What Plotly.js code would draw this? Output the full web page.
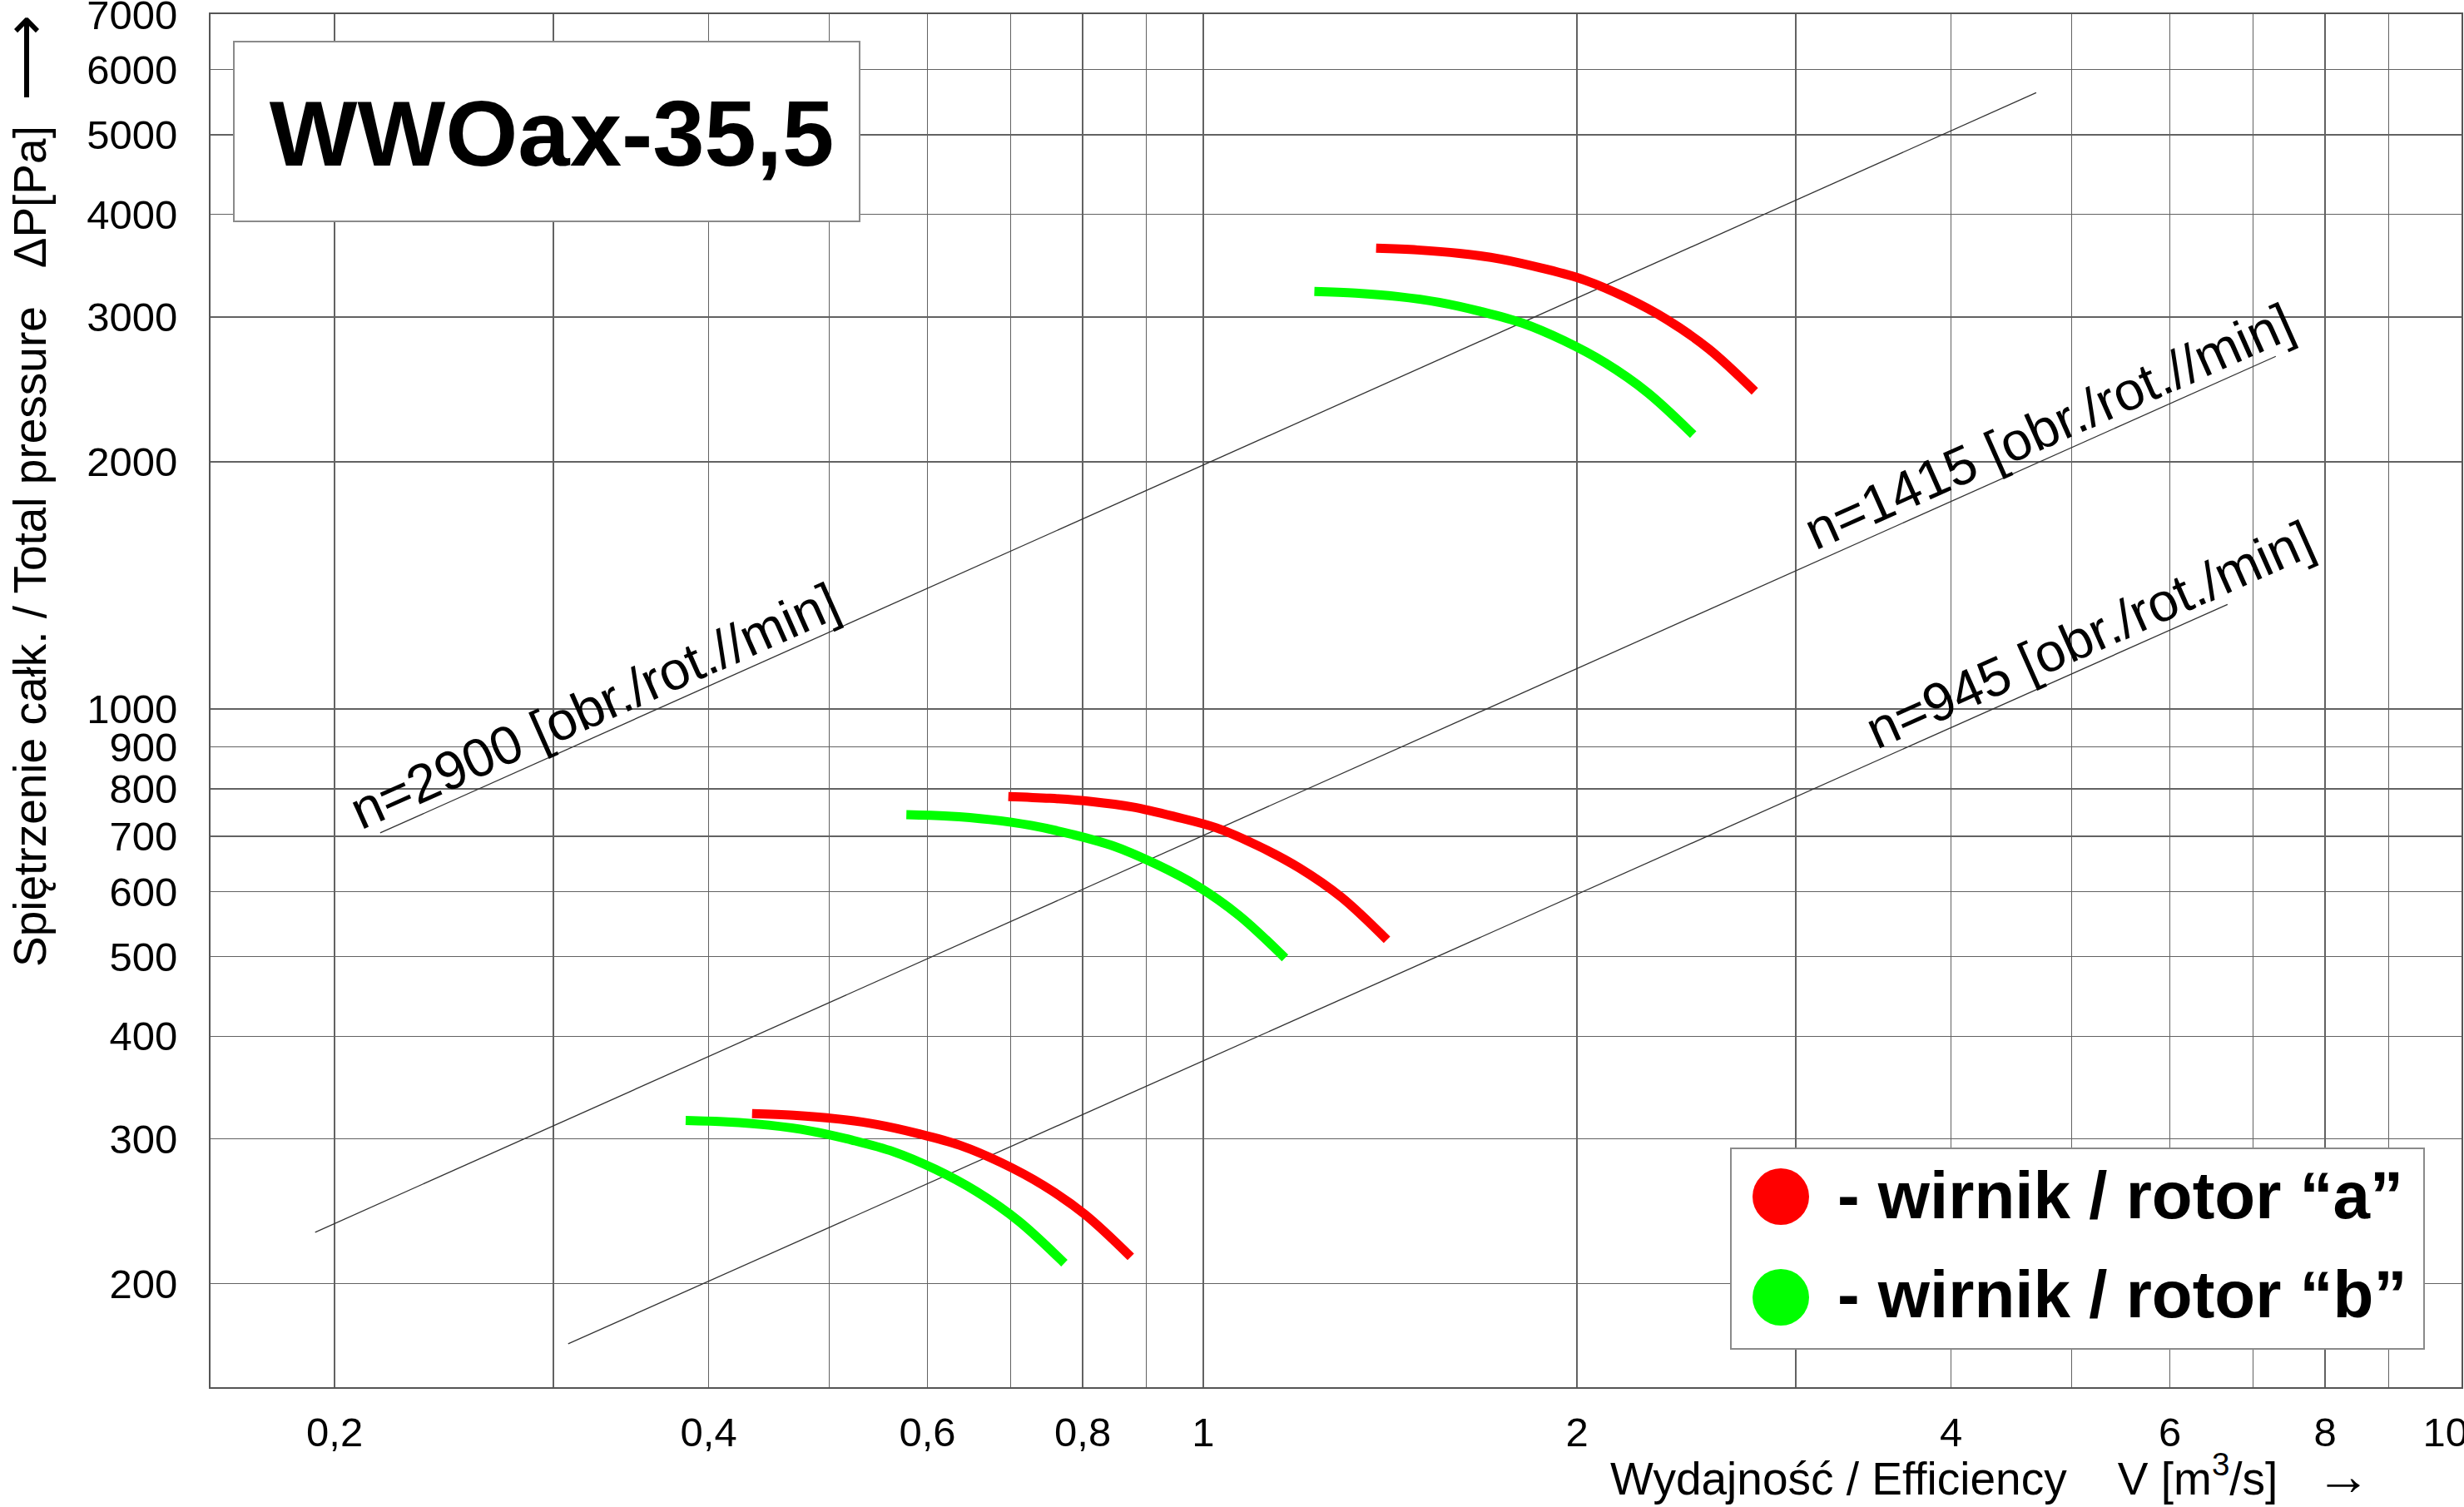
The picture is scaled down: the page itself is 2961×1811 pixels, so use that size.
<!DOCTYPE html>
<html>
<head>
<meta charset="utf-8">
<script src="https://cdn.plot.ly/plotly-3.0.1.min.js"></script>
<style>
html, body { margin: 0; padding: 0; background: #ffffff; }
#chart { width: 2961px; height: 1811px; }
</style>
</head>
<body>
<div id="chart"></div>
<script>
// ---------------- DATA ----------------
// Rotor "a" (red) and rotor "b" (green) characteristic curves, V [m3/s] vs dP [Pa]
const redHighQ   = [1.378, 1.488, 1.608, 1.736, 1.875, 2.026, 2.188, 2.363, 2.553, 2.780];
const redHighP   = [3637, 3620, 3586, 3529, 3439, 3329, 3170, 2977, 2743, 2436];
const greenHighQ = [1.229, 1.327, 1.434, 1.549, 1.673, 1.807, 1.951, 2.108, 2.277, 2.480];
const greenHighP = [3222, 3207, 3177, 3126, 3047, 2949, 2808, 2637, 2430, 2158];

const redMidQ   = [0.697, 0.753, 0.813, 0.878, 0.949, 1.025, 1.107, 1.195, 1.291, 1.406];
const redMidP   = [783, 779, 772, 760, 740, 717, 682, 641, 591, 524];
const greenMidQ = [0.577, 0.623, 0.673, 0.727, 0.785, 0.848, 0.916, 0.990, 1.069, 1.164];
const greenMidP = [744, 741, 734, 722, 704, 681, 648, 609, 561, 498];

const redLowQ   = [0.4335, 0.4682, 0.5057, 0.5463, 0.5900, 0.6373, 0.6883, 0.7435, 0.8031, 0.8746];
const redLowP   = [322, 320.5, 317.5, 312.4, 304.5, 294.7, 280.6, 263.5, 242.9, 215.6];
const greenLowQ = [0.3833, 0.4140, 0.4472, 0.4830, 0.5217, 0.5635, 0.6086, 0.6573, 0.7101, 0.7733];
const greenLowP = [316, 314.7, 311.8, 306.8, 299.0, 289.4, 275.6, 258.8, 238.5, 211.8];

// Speed reference lines (thin) and their labels
const speedLabels = ['n=2900 [obr./rot.//min]', 'n=1415 [obr./rot.//min]', 'n=945 [obr./rot./min]'];
const speedLineQ  = [[0.2176, 4.683], [0.1929, 7.301], [0.3083, 6.676]];
const speedLineP  = [[707, 5623], [231, 2687], [169, 1341]];
const speedLabelQ = [0.3234, 4.79, 5.17];

// Axes
const xTickVals = [0.2, 0.4, 0.6, 0.8, 1, 2, 4, 6, 8, 10];
const xTickText = ['0,2', '0,4', '0,6', '0,8', '1', '2', '4', '6', '8', '10'];
const xGridVals = [0.2, 0.3, 0.4, 0.5, 0.6, 0.7, 0.8, 0.9, 1, 2, 3, 4, 5, 6, 7, 8, 9];
const yTickVals = [200, 300, 400, 500, 600, 700, 800, 900, 1000, 2000, 3000, 4000, 5000, 6000, 7000];
const yTickText = ['200', '300', '400', '500', '600', '700', '800', '900', '1000', '2000', '3000', '4000', '5000', '6000', '7000'];

const chartTitle = 'WWOax-35,5';
const xTitle = 'Wydajność / Efficiency\u00a0\u00a0\u00a0\u00a0V [m<sup>3</sup>/s]\u00a0\u00a0\u00a0<span style="font-size:66px"><b>→</b></span>';
const yTitle = 'Spiętrzenie całk. / Total pressure\u00a0\u00a0\u00a0ΔP[Pa]\u00a0\u00a0<span style="font-size:72px">⟶</span>';
const legendLabels = ['- wirnik / rotor “a”', '- wirnik / rotor “b”'];
const rotorColors = ['#ff0000', '#00ff00'];

// ---------------- LAYOUT HELPERS ----------------
const W = 2961, H = 1811;
const L = 253, R = 2958, T = 17, B = 1667;
const px = v => (v - L) / (R - L);
const py = v => (B - v) / (B - T);
const lg = Math.log10;
const FONT = 'Liberation Sans, Arial, Helvetica, sans-serif';

// ---------------- TRACES ----------------
const traces = [];
speedLineQ.forEach((q, i) => {
  traces.push({
    x: q, y: speedLineP[i], mode: 'lines', type: 'scatter',
    line: { color: '#333333', width: 1.3 }, hoverinfo: 'skip', showlegend: false
  });
});
const curves = [
  [redHighQ, redHighP, 0], [greenHighQ, greenHighP, 1],
  [redMidQ, redMidP, 0], [greenMidQ, greenMidP, 1],
  [redLowQ, redLowP, 0], [greenLowQ, greenLowP, 1]
];
curves.forEach(c => {
  traces.push({
    x: c[0], y: c[1], mode: 'lines', type: 'scatter',
    line: { color: rotorColors[c[2]], width: 11, shape: 'spline', smoothing: 1 },
    showlegend: false
  });
});

// ---------------- ANNOTATIONS ----------------
const annotations = [];
speedLabels.forEach((t, i) => {
  const q0 = speedLineQ[i][0], q1 = speedLineQ[i][1];
  const p0 = speedLineP[i][0], p1 = speedLineP[i][1];
  const lq = lg(speedLabelQ[i]);
  const f = (lq - lg(q0)) / (lg(q1) - lg(q0));
  const lp = lg(p0) + f * (lg(p1) - lg(p0));
  annotations.push({
    x: lq, y: lp, xref: 'x', yref: 'y', text: t, showarrow: false,
    textangle: -24, yshift: 38, xanchor: 'center', yanchor: 'middle',
    font: { family: FONT, size: 65, color: '#000' }
  });
});
// axis titles
annotations.push({
  x: px(2392), y: py(1773), xref: 'paper', yref: 'paper', text: xTitle,
  showarrow: false, xanchor: 'center', yanchor: 'middle',
  font: { family: FONT, size: 55, color: '#000' }
});
annotations.push({
  x: px(30), y: py(590), xref: 'paper', yref: 'paper', text: yTitle,
  showarrow: false, textangle: -90, xanchor: 'center', yanchor: 'middle',
  font: { family: FONT, size: 55, color: '#000' }
});
// legend texts
const legendRowY = [1436, 1555];
legendLabels.forEach((t, i) => {
  annotations.push({
    x: px(2206), y: py(legendRowY[i]), xref: 'paper', yref: 'paper',
    text: '<b>' + t + '</b>', showarrow: false, xanchor: 'left', yanchor: 'middle',
    font: { family: FONT, size: 80, color: '#000' }
  });
});

// ---------------- SHAPES ----------------
const shapes = [];
// title box
shapes.push({
  type: 'rect', xref: 'paper', yref: 'paper', layer: 'above',
  x0: px(281), x1: px(1033), y0: py(266), y1: py(50),
  fillcolor: '#ffffff', line: { color: '#8a8a8a', width: 2 }
});
// legend box
shapes.push({
  type: 'rect', xref: 'paper', yref: 'paper', layer: 'above',
  x0: px(2080), x1: px(2913), y0: py(1621), y1: py(1380),
  fillcolor: '#ffffff', line: { color: '#8a8a8a', width: 2 }
});
const legendDotY = [1438, 1559];
rotorColors.forEach((c, i) => {
  shapes.push({
    type: 'circle', xref: 'paper', yref: 'paper', layer: 'above',
    xsizemode: 'pixel', ysizemode: 'pixel',
    xanchor: px(2140), yanchor: py(legendDotY[i]),
    x0: -34, x1: 34, y0: -34, y1: 34,
    fillcolor: c, line: { width: 0 }
  });
});

// ---------------- LAYOUT ----------------
const layout = {
  width: W, height: H,
  margin: { l: L, r: W - R, t: T, b: H - B, pad: 0 },
  paper_bgcolor: '#ffffff', plot_bgcolor: '#ffffff',
  showlegend: false,
  font: { family: FONT, color: '#000' },
  title: {
    text: '<b>' + chartTitle + '</b>',
    x: 663 / W, xanchor: 'center', xref: 'container',
    y: 1 - 160 / H, yanchor: 'middle', yref: 'container',
    font: { family: FONT, size: 112, color: '#000' }
  },
  xaxis: {
    type: 'log',
    range: [lg(0.1589), lg(10.3)],
    tickmode: 'array', tickvals: xTickVals, ticktext: xTickText,
    showgrid: false, ticks: '', ticklabelstandoff: 10,
    ticklabeloverflow: 'allow',
    tickfont: { family: FONT, size: 49, color: '#000' },
    minor: { tickmode: 'array', tickvals: xGridVals, showgrid: true, gridcolor: '#626262', gridwidth: 1.5, ticks: '' },
    showline: true, mirror: true, linecolor: '#555', linewidth: 2,
    zeroline: false, fixedrange: true
  },
  yaxis: {
    type: 'log',
    range: [2.1751, 3.8456],
    tickmode: 'array', tickvals: yTickVals, ticktext: yTickText,
    showgrid: true, gridcolor: '#626262', gridwidth: 1.5, ticks: '', ticklabelstandoff: 28,
    ticklabeloverflow: 'allow',
    tickfont: { family: FONT, size: 49, color: '#000' },
    showline: true, mirror: true, linecolor: '#555', linewidth: 2,
    zeroline: false, fixedrange: true
  },
  annotations: annotations,
  shapes: shapes
};

Plotly.newPlot('chart', traces, layout, { staticPlot: true, displayModeBar: false });
</script>
</body>
</html>
